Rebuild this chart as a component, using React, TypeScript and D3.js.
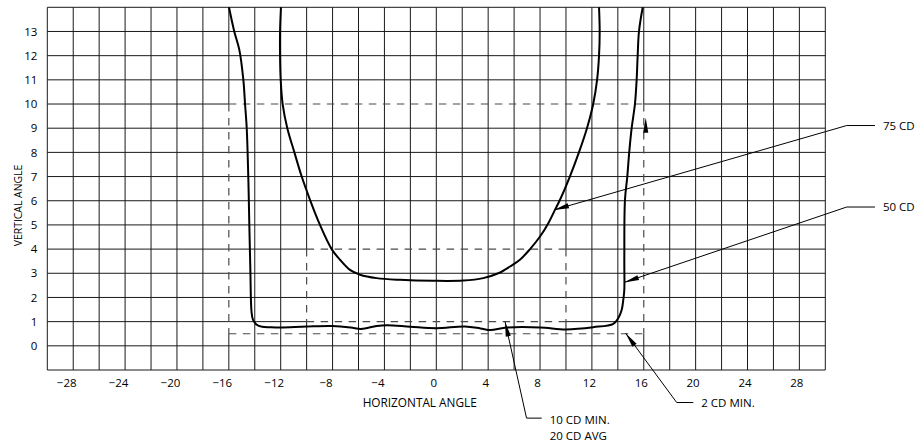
import React from "react";
import * as d3 from "d3";

const W = 920;
const H = 444;

// axis domains and ticks
const xDomain = [-30, 30];
const yDomain = [-1, 14];
const xGridValues = d3.range(-30, 31, 2);
const yGridValues = d3.range(-1, 15, 1);
const xTickLabels = [-28, -24, -20, -16, -12, -8, -4, 0, 4, 8, 12, 16, 20, 24, 28];
const yTickLabels = [0, 1, 2, 3, 4, 5, 6, 7, 8, 9, 10, 11, 12, 13];

// 50 CD outer isocandela curve
const outerCurve: [number, number][] = [
  [-15.99, 14.0], [-15.58, 13.0], [-15.19, 12.24], [-14.88, 11.0], [-14.75, 10.0],
  [-14.62, 9.0], [-14.5, 7.0], [-14.42, 5.0], [-14.34, 3.14], [-14.25, 1.41],
  [-14.14, 1.08], [-13.85, 0.87], [-13.44, 0.79], [-12.8, 0.77], [-12, 0.76],
  [-10, 0.8], [-8, 0.82], [-6.6, 0.76], [-5.8, 0.7], [-4.6, 0.82], [-3.8, 0.85],
  [-2, 0.79], [0, 0.73], [2.2, 0.8], [3.4, 0.72], [4.2, 0.65], [5.3, 0.75],
  [8, 0.76], [10, 0.68], [12.1, 0.77], [13.65, 0.91], [14.04, 1.15], [14.3, 1.49],
  [14.42, 1.9], [14.5, 2.32], [14.5, 3.5], [14.55, 6.04], [14.73, 7.0], [14.88, 8.01],
  [15.07, 9.02], [15.32, 10.0], [15.45, 11.0], [15.53, 12.0], [15.63, 13.0], [15.92, 14.0],
];

// 75 CD inner isocandela curve
const innerCurve: [number, number][] = [
  [-11.98, 14.0], [-12.05, 13.0], [-12.05, 12.0], [-12.0, 11.0], [-11.85, 10.0],
  [-11.49, 9.0], [-10.95, 8.01], [-10.38, 7.0], [-9.74, 6.04], [-8.97, 5.0],
  [-8.07, 4.0], [-7.43, 3.56], [-6.66, 3.14], [-5.88, 2.94], [-4.6, 2.8],
  [-2.8, 2.73], [-0.23, 2.69], [2.08, 2.7], [3.62, 2.8], [4.78, 3.0], [5.68, 3.28],
  [6.45, 3.56], [7.23, 4.0], [8.0, 4.52], [8.64, 5.07], [9.15, 5.62], [9.54, 6.04],
  [10.3, 7.0], [11.0, 8.0], [11.62, 9.0], [12.1, 10.0], [12.4, 11.0],
  [12.55, 12.0], [12.6, 13.0], [12.55, 14.0],
];

// dashed test-point rectangles
const dashedRects = [
  { x0: -16, x1: 16, y0: 0.5, y1: 10 },
  { x0: -10, x1: 10, y0: 1, y1: 4 },
];

// callouts
const callouts = [
  { label: ["75 CD"], tip: [9.08, 5.62], elbow: [31.65, 9.11], end: [33.83, 9.11], dy: 4 },
  { label: ["50 CD"], tip: [14.48, 2.62], elbow: [31.65, 5.74], end: [33.83, 5.74], dy: 4 },
  { label: ["10 CD MIN.", "20 CD AVG"], tip: [5.3, 1.0], elbow: [6.96, -2.99], end: [8.13, -2.99], dy: 5.5 },
  { label: ["2 CD MIN."], tip: [14.6, 0.525], elbow: [18.54, -2.345], end: [19.82, -2.345], dy: 4 },
];

// stray arrowhead on right dashed edge
const loneArrows = [{ tip: [16.15, 9.43], from: [16.15, 8.6] }];

const FONT = "'Open Sans', 'Noto Sans', sans-serif";

export default function App() {
  const x = d3.scaleLinear().domain(xDomain).range([47.3, 825.3]);
  const y = d3.scaleLinear().domain(yDomain).range([370, 7.3]);
  const fmt = d3.format("d");

  const line = d3
    .line<[number, number]>()
    .x((d) => x(d[0]))
    .y((d) => y(d[1]))
    .curve(d3.curveCatmullRom.alpha(0.5));

  // grid segments with dashed spans excluded
  const hSegs: { y: number; a: number; b: number }[] = [];
  yGridValues.forEach((v) => {
    const cuts = dashedRects
      .flatMap((r) => [r.y0, r.y1].filter((e) => e === v).map(() => [r.x0, r.x1]))
      .sort((p, q) => p[0] - q[0]);
    let start = xDomain[0];
    cuts.forEach(([c0, c1]) => {
      if (c0 > start) hSegs.push({ y: v, a: start, b: c0 });
      start = Math.max(start, c1);
    });
    hSegs.push({ y: v, a: start, b: xDomain[1] });
  });
  const vSegs: { x: number; a: number; b: number }[] = [];
  xGridValues.forEach((u) => {
    const cuts = dashedRects
      .flatMap((r) => [r.x0, r.x1].filter((e) => e === u).map(() => [r.y0, r.y1]))
      .sort((p, q) => p[0] - q[0]);
    let start = yDomain[0];
    cuts.forEach(([c0, c1]) => {
      if (c0 > start) vSegs.push({ x: u, a: start, b: c0 });
      start = Math.max(start, c1);
    });
    vSegs.push({ x: u, a: start, b: yDomain[1] });
  });

  const arrowHead = (tip: number[], from: number[], len = 15, hw = 2.6) => {
    const tx = x(tip[0]);
    const ty = y(tip[1]);
    const fx = x(from[0]);
    const fy = y(from[1]);
    const dx = tx - fx;
    const dy = ty - fy;
    const L = Math.hypot(dx, dy);
    const ux = dx / L;
    const uy = dy / L;
    const bx = tx - ux * len;
    const by = ty - uy * len;
    return `M${tx},${ty}L${bx - uy * hw},${by + ux * hw}L${bx + uy * hw},${by - ux * hw}Z`;
  };

  return (
    <svg
      width={W}
      height={H}
      style={{ position: "absolute", left: 0, top: 0, background: "#fff" }}
      fontFamily={FONT}
    >
      <rect width={W} height={H} fill="#fff" />
      {/* grid */}
      <g stroke="#1a1a1a" strokeWidth={1}>
        {hSegs.map((s, i) => (
          <line key={"h" + i} x1={x(s.a)} x2={x(s.b)} y1={y(s.y)} y2={y(s.y)} />
        ))}
        {vSegs.map((s, i) => (
          <line key={"v" + i} x1={x(s.x)} x2={x(s.x)} y1={y(s.a)} y2={y(s.b)} />
        ))}
      </g>
      {/* dashed rectangles */}
      <g stroke="#4a4a4a" strokeWidth={1.2} fill="none" strokeDasharray="7.5,6.5">
        {dashedRects.map((r, i) => (
          <g key={i}>
            <line x1={x(r.x0)} x2={x(r.x1)} y1={y(r.y1)} y2={y(r.y1)} />
            <line x1={x(r.x0)} x2={x(r.x1)} y1={y(r.y0)} y2={y(r.y0)} />
            <line x1={x(r.x0)} x2={x(r.x0)} y1={y(r.y1)} y2={y(r.y0)} />
            <line x1={x(r.x1)} x2={x(r.x1)} y1={y(r.y1)} y2={y(r.y0)} />
          </g>
        ))}
      </g>
      {/* curves */}
      <g fill="none" stroke="#000" strokeWidth={2} strokeLinejoin="round">
        <path d={line(outerCurve) || ""} />
        <path d={line(innerCurve) || ""} />
      </g>
      {/* callouts */}
      {callouts.map((c, i) => (
        <g key={i}>
          <polyline
            points={`${x(c.tip[0])},${y(c.tip[1])} ${x(c.elbow[0])},${y(c.elbow[1])} ${x(c.end[0])},${y(c.end[1])}`}
            fill="none"
            stroke="#000"
            strokeWidth={1}
          />
          <path d={arrowHead(c.tip, c.elbow)} fill="#000" />
          <text x={x(c.end[0]) + 8} y={y(c.end[1]) + c.dy} fontSize={11.5} fill="#000">
            {c.label.map((t, j) => (
              <tspan key={j} x={x(c.end[0]) + 8} dy={j === 0 ? 0 : 16}>
                {t}
              </tspan>
            ))}
          </text>
        </g>
      ))}
      {loneArrows.map((a, i) => (
        <path key={i} d={arrowHead(a.tip, a.from)} fill="#000" />
      ))}
      {/* x tick labels */}
      <g fontSize={11.5} fill="#000" textAnchor="middle">
        {xTickLabels.map((v) => (
          <text key={v} x={x(v) + (v < 0 ? -6.5 : -2.5)} y={387}>
            {d3.format("")(v)}
          </text>
        ))}
      </g>
      {/* y tick labels */}
      <g fontSize={11.5} fill="#000" textAnchor="end">
        {yTickLabels.map((v) => (
          <text key={v} x={x(xDomain[0]) - 10} y={y(v)} dy="0.36em">
            {fmt(v)}
          </text>
        ))}
      </g>
      <text x={x(0) - 16.6} y={406.7} textAnchor="middle" fontSize={11.8} fill="#000">
        HORIZONTAL ANGLE
      </text>
      <text
        transform={`translate(22,205.5) rotate(-90)`}
        textAnchor="middle"
        fontSize={10.4}
        fill="#000"
      >
        VERTICAL ANGLE
      </text>
    </svg>
  );
}
